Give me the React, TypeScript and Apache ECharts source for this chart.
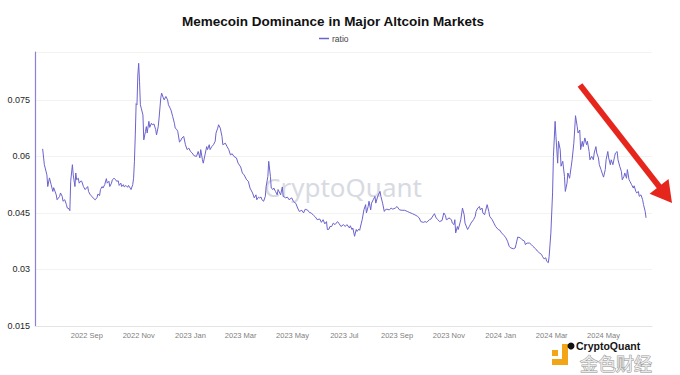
import React, { useEffect, useRef } from "react";
import * as echarts from "echarts";

// Series starts on 2022-07-11; each offset is days after that date.
const seriesStart = "2022-07-11";
const dayOffsets = [
  0, 2, 5, 6, 8, 10, 12, 13, 16, 17, 20, 21, 23, 24, 26, 28, 29, 31, 32, 33, 35, 36, 38, 39, 40, 42, 43, 45, 46, 48,
  50, 53, 54, 56, 58, 60, 62, 64, 65, 67, 68, 70, 71, 73, 75, 76, 78, 79, 81, 82, 84, 86, 87, 89, 90, 92, 93, 95, 96, 98,
  100, 101, 103, 104, 106, 107, 108, 109, 110, 111, 112, 113, 114, 115, 116, 118, 119, 121, 122, 123, 125, 126, 128, 129, 131, 133, 134, 136, 137, 139,
  140, 142, 143, 145, 147, 148, 150, 151, 153, 155, 156, 158, 159, 161, 162, 164, 166, 168, 170, 172, 174, 176, 178, 181, 183, 185, 186, 188, 189, 191,
  193, 194, 196, 197, 199, 201, 203, 204, 206, 207, 209, 211, 212, 215, 217, 219, 221, 223, 225, 228, 230, 233, 235, 237, 240, 242, 244, 247, 249, 251,
  252, 254, 255, 257, 258, 260, 262, 263, 265, 266, 268, 269, 271, 272, 274, 276, 277, 279, 280, 282, 283, 286, 288, 290, 293, 295, 298, 300, 302, 305,
  307, 309, 312, 314, 316, 319, 321, 323, 326, 328, 330, 332, 334, 335, 337, 338, 340, 342, 344, 347, 349, 351, 354, 356, 358, 361, 362, 364, 365, 367,
  369, 370, 372, 373, 375, 376, 378, 380, 381, 383, 384, 386, 387, 389, 391, 392, 394, 395, 397, 398, 400, 402, 403, 405, 408, 410, 412, 415, 417, 420,
  423, 426, 429, 432, 435, 438, 441, 443, 445, 448, 450, 452, 455, 457, 460, 461, 463, 465, 467, 470, 472, 474, 475, 477, 478, 481, 482, 484, 485, 486,
  488, 489, 491, 492, 494, 496, 497, 500, 502, 504, 507, 509, 510, 512, 514, 515, 517, 518, 520, 521, 523, 525, 526, 529, 531, 533, 536, 538, 540, 543,
  545, 547, 549, 551, 554, 556, 557, 559, 562, 564, 567, 568, 570, 573, 575, 577, 580, 582, 585, 587, 588, 590, 592, 593, 595, 596, 598, 600, 601, 603,
  604, 606, 607, 609, 610, 612, 614, 615, 617, 618, 620, 622, 623, 625, 626, 627, 629, 630, 632, 633, 635, 636, 638, 640, 641, 643, 644, 646, 648, 649,
  651, 652, 654, 655, 657, 659, 660, 662, 663, 665, 666, 668, 669, 671, 673, 674, 676, 677, 679, 681, 682, 684, 685, 687, 688, 690, 691, 693, 695, 696,
  698, 699, 701, 702, 704, 706, 707, 709, 710,
];
const ratio = [
  0.062, 0.0578, 0.0551, 0.052, 0.0543, 0.0525, 0.0507, 0.0517, 0.0498, 0.0485, 0.0494, 0.0503, 0.0494, 0.0481, 0.0485, 0.0472, 0.0463, 0.0461, 0.0456, 0.0534, 0.0578, 0.0551, 0.052, 0.0556, 0.0538, 0.0542, 0.0529, 0.0535, 0.0534, 0.052,
  0.0512, 0.052, 0.0507, 0.0498, 0.0494, 0.0488, 0.0485, 0.0491, 0.05, 0.0496, 0.0512, 0.052, 0.0516, 0.0525, 0.0541, 0.0529, 0.0534, 0.052, 0.0529, 0.0538, 0.0542, 0.0538, 0.0534, 0.0535, 0.0523, 0.0529, 0.052, 0.0525, 0.0519, 0.0523,
  0.0518, 0.0523, 0.0516, 0.0512, 0.0525, 0.0542, 0.0587, 0.0657, 0.074, 0.0737, 0.0816, 0.0847, 0.0798, 0.0737, 0.0728, 0.071, 0.0644, 0.0666, 0.0679, 0.0662, 0.0693, 0.0677, 0.0688, 0.0684, 0.0686, 0.0671, 0.0657, 0.0679, 0.0702, 0.0755,
  0.0768, 0.0755, 0.075, 0.0759, 0.075, 0.0737, 0.0728, 0.0723, 0.0706, 0.0688, 0.0675, 0.0671, 0.0666, 0.0638, 0.064, 0.0649, 0.0653, 0.0631, 0.0618, 0.0622, 0.0613, 0.0609, 0.0602, 0.06, 0.0613, 0.0596, 0.0618, 0.0591, 0.0582, 0.0604,
  0.0626, 0.0618, 0.0631, 0.0618, 0.0626, 0.0631, 0.064, 0.0662, 0.0675, 0.0684, 0.0675, 0.0653, 0.0631, 0.0635, 0.0626, 0.0618, 0.0604, 0.0607, 0.06, 0.0596, 0.0582, 0.0572, 0.0556, 0.0551, 0.0538, 0.0534, 0.0516, 0.0503, 0.049, 0.0498,
  0.0485, 0.0492, 0.049, 0.0492, 0.0485, 0.0481, 0.0494, 0.052, 0.0547, 0.0587, 0.0547, 0.0516, 0.0512, 0.0516, 0.0507, 0.0498, 0.0512, 0.0503, 0.0498, 0.0519, 0.0494, 0.049, 0.0492, 0.0485, 0.049, 0.0481, 0.0475, 0.0463, 0.0454, 0.0457,
  0.045, 0.046, 0.0457, 0.0451, 0.045, 0.0443, 0.0439, 0.0432, 0.0434, 0.0425, 0.0432, 0.0421, 0.0427, 0.0406, 0.0407, 0.0414, 0.0414, 0.0423, 0.0419, 0.0427, 0.0421, 0.0414, 0.0419, 0.0414, 0.0419, 0.041, 0.0416, 0.0406, 0.041, 0.0388,
  0.0406, 0.0401, 0.0407, 0.0404, 0.0423, 0.0432, 0.0458, 0.0472, 0.045, 0.0467, 0.0481, 0.0458, 0.0476, 0.0485, 0.0494, 0.0476, 0.0492, 0.0498, 0.0507, 0.0494, 0.0476, 0.0454, 0.0458, 0.046, 0.0458, 0.0463, 0.046, 0.0463, 0.0467, 0.0458,
  0.0457, 0.0457, 0.0454, 0.0451, 0.0448, 0.0445, 0.0441, 0.0437, 0.0427, 0.0425, 0.0427, 0.0425, 0.0432, 0.0434, 0.0445, 0.0448, 0.0437, 0.0432, 0.0427, 0.043, 0.045, 0.0443, 0.0432, 0.0434, 0.0437, 0.0432, 0.0423, 0.0419, 0.0432, 0.0397,
  0.0414, 0.0406, 0.0423, 0.0432, 0.0463, 0.0445, 0.0423, 0.0406, 0.0414, 0.0423, 0.0432, 0.0441, 0.0454, 0.0463, 0.0467, 0.0458, 0.0463, 0.045, 0.0445, 0.0454, 0.0472, 0.0454, 0.0441, 0.0432, 0.0423, 0.0414, 0.0406, 0.0404, 0.0397, 0.039,
  0.0384, 0.0375, 0.0361, 0.0357, 0.0355, 0.0357, 0.0366, 0.0386, 0.0384, 0.0379, 0.0375, 0.0366, 0.037, 0.037, 0.0366, 0.0361, 0.0355, 0.0349, 0.0343, 0.034, 0.0335, 0.0328, 0.0331, 0.0322, 0.0318, 0.0335, 0.0397, 0.0503, 0.06, 0.0693,
  0.0653, 0.0582, 0.064, 0.0618, 0.0574, 0.0587, 0.0547, 0.0507, 0.0529, 0.0556, 0.0542, 0.0574, 0.0591, 0.0635, 0.067, 0.0708, 0.0679, 0.0662, 0.067, 0.0618, 0.064, 0.0626, 0.0649, 0.0631, 0.064, 0.0613, 0.0591, 0.06, 0.0591, 0.0609,
  0.0626, 0.0609, 0.0596, 0.0578, 0.0565, 0.0551, 0.0545, 0.0565, 0.0591, 0.0613, 0.0596, 0.0578, 0.0591, 0.0578, 0.06, 0.0609, 0.0613, 0.0591, 0.0574, 0.056, 0.0538, 0.0547, 0.0556, 0.0542, 0.0565, 0.0538, 0.0534, 0.0525, 0.0516, 0.0522,
  0.0507, 0.0503, 0.0507, 0.0494, 0.0498, 0.0485, 0.0472, 0.0454, 0.0437,
];

const xAxisStart = "2022-07-02";
const xAxisEnd = "2024-06-27";
const xTickDates = [
  "2022-09-01", "2022-11-01", "2023-01-01", "2023-03-01", "2023-05-01", "2023-07-01",
  "2023-09-01", "2023-11-01", "2024-01-01", "2024-03-01", "2024-05-01",
];
const xTickLabels = [
  "2022 Sep", "2022 Nov", "2023 Jan", "2023 Mar", "2023 May", "2023 Jul",
  "2023 Sep", "2023 Nov", "2024 Jan", "2024 Mar", "2024 May",
];
const yMin = 0.015;
const yMax = 0.0877;
const yStep = 0.015;

const DAY = 86400000;
function parseDay(s: string, addDays = 0): number {
  const [y, m, d] = s.split("-").map(Number);
  return Date.UTC(y, m - 1, d + addDays);
}

export default function App() {
  const ref = useRef<HTMLDivElement>(null);

  useEffect(() => {
    if (!ref.current) return;
    const chart = echarts.init(ref.current, null, { renderer: "svg" });
    const seriesData = dayOffsets.map((o, i) => [parseDay(seriesStart, o), ratio[i]]);
    const tickTimes = xTickDates.map((s) => parseDay(s));

    const dir = [92, 118];
    const len = Math.hypot(dir[0], dir[1]);
    const u = [dir[0] / len, dir[1] / len];
    const n = [u[1], -u[0]];
    const tip = [672, 203];
    const base = [tip[0] - 21 * u[0], tip[1] - 21 * u[1]];
    const hw = 12;

    chart.setOption({
      animation: false,
      backgroundColor: "#ffffff",
      title: {
        text: "Memecoin Dominance in Major Altcoin Markets",
        left: 328,
        top: 9,
        textAlign: "center",
        textStyle: {
          fontFamily: "Liberation Sans, Arial, sans-serif",
          fontSize: 13.5,
          fontWeight: "bold",
          color: "#111111",
        },
      },
      legend: {
        data: ["ratio"],
        left: 314,
        top: 29,
        icon: "rect",
        itemWidth: 10,
        itemHeight: 1.5,
        itemGap: 4,
        textStyle: {
          fontFamily: "Liberation Sans, Arial, sans-serif",
          fontSize: 8.5,
          color: "#444444",
          padding: [0, 0, 0, -2],
        },
      },
      grid: { left: 35, right: 28, top: 52, bottom: 49, containLabel: false },
      xAxis: {
        type: "value",
        min: parseDay(xAxisStart),
        max: parseDay(xAxisEnd),
        axisLine: { show: true, lineStyle: { color: "#e3e3e3", width: 1 } },
        axisTick: { show: false },
        splitLine: { show: false },
        axisLabel: {
          customValues: tickTimes,
          margin: 5,
          fontFamily: "Liberation Sans, Arial, sans-serif",
          fontSize: 7.5,
          color: "#808080",
          hideOverlap: false,
          formatter: (val: number) => {
            let best = -1;
            let bd = Infinity;
            tickTimes.forEach((t, i) => {
              const d = Math.abs(t - val);
              if (d < bd) { bd = d; best = i; }
            });
            return best >= 0 && bd < 2 * DAY ? xTickLabels[best] : "";
          },
        },
      },
      yAxis: {
        type: "value",
        min: yMin,
        max: yMax,
        interval: yStep,
        axisLine: { show: true, lineStyle: { color: "#8a82d6", width: 1.2 } },
        axisTick: { show: false },
        splitLine: { show: true, lineStyle: { color: "#f3f3f0", width: 1 } },
        axisLabel: {
          showMaxLabel: false,
          margin: 5,
          fontFamily: "Liberation Sans, Arial, sans-serif",
          fontSize: 9,
          color: "#1e1e1e",
          formatter: (v: number) => String(+v.toFixed(4)),
        },
      },
      graphic: [
        {
          type: "text",
          z: 0,
          silent: true,
          x: 343,
          y: 187,
          style: {
            text: "CryptoQuant",
            fontFamily: "Noto Sans, sans-serif",
            fontSize: 26,
            fill: "#d8dae2",
            align: "center",
            verticalAlign: "middle",
          },
        },
        {
          type: "line",
          z: 100,
          shape: { x1: 580, y1: 85, x2: base[0] + 2 * u[0], y2: base[1] + 2 * u[1] },
          style: { stroke: "#e6261d", lineWidth: 6 },
        },
        {
          type: "polygon",
          z: 100,
          shape: {
            points: [
              tip,
              [base[0] + hw * n[0], base[1] + hw * n[1]],
              [base[0] - hw * n[0], base[1] - hw * n[1]],
            ],
          },
          style: { fill: "#e6261d" },
        },
        { type: "rect", z: 100, shape: { x: 552, y: 350, width: 6, height: 6 }, style: { fill: "#f2a516" } },
        { type: "rect", z: 100, shape: { x: 562, y: 344, width: 6, height: 21 }, style: { fill: "#f2a516" } },
        { type: "rect", z: 100, shape: { x: 552, y: 359, width: 16, height: 6 }, style: { fill: "#f2a516" } },
        { type: "circle", z: 100, shape: { cx: 571, cy: 346, r: 3.5 }, style: { fill: "#111111" } },
        {
          type: "text",
          z: 100,
          x: 576,
          y: 345.5,
          style: {
            text: "CryptoQuant",
            fontFamily: "Liberation Sans, Arial, sans-serif",
            fontSize: 10.5,
            fontWeight: "bold",
            fill: "#151515",
            verticalAlign: "middle",
          },
        },
        {
          type: "text",
          z: 101,
          x: 580,
          y: 363,
          style: {
            text: "金色财经",
            fontFamily: "Noto Sans CJK SC, sans-serif",
            fontSize: 18,
            fill: "rgba(245,245,245,0.85)",
            stroke: "#9a9a9a",
            lineWidth: 1,
            verticalAlign: "middle",
          },
        },
      ],
      series: [
        {
          name: "ratio",
          type: "line",
          data: seriesData,
          showSymbol: false,
          symbol: "none",
          z: 5,
          lineStyle: { color: "#6b63cc", width: 1 },
          itemStyle: { color: "#6b63cc" },
        },
      ],
    });

    return () => chart.dispose();
  }, []);

  return <div ref={ref} style={{ width: 680, height: 375, position: "absolute", left: 0, top: 0 }} />;
}
